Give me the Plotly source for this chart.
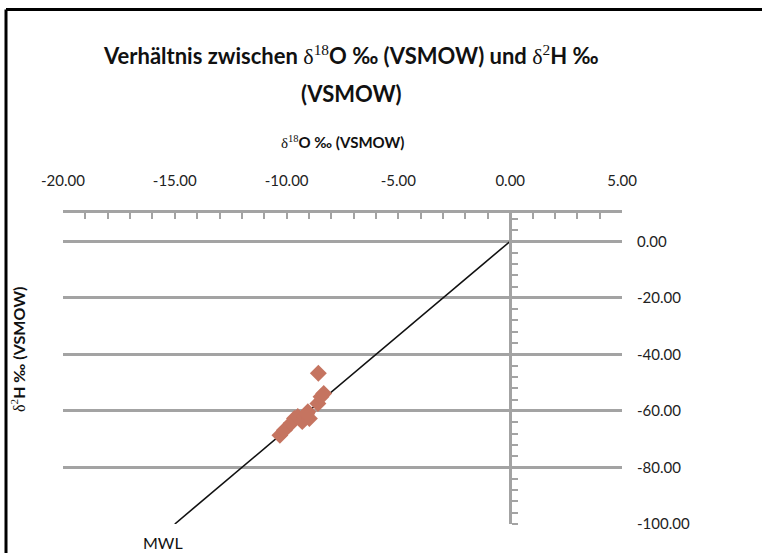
import plotly.graph_objects as go

# Isotope samples: delta-18O vs delta-2H (per mil, VSMOW)
d18o = [-10.3, -10.1, -9.8, -9.65, -9.5, -9.3, -9.2, -9.05, -8.98, -9.1, -8.6, -8.46, -8.34, -8.58]
d2h = [-68.6, -66.8, -64.4, -62.7, -62.0, -63.8, -62.1, -60.3, -62.7, -61.0, -57.4, -55.0, -53.8, -46.7]

# Meteoric water line end points
mwl_x = [-15.0, 0.0]
mwl_y = [-100.0, 0.0]

x_range = [-20, 5]
y_range = [-100, 10]
x_ticks = [-20, -15, -10, -5, 0, 5]
y_ticks = [0, -20, -40, -60, -80, -100]
x_labels = ["-20.00", "-15.00", "-10.00", "-5.00", "0.00", "5.00"]
y_labels = ["0.00", "-20.00", "-40.00", "-60.00", "-80.00", "-100.00"]

FONT = "Lato, Arial"
SERIF = "Liberation Serif"
GRID = "#a3a3a3"

# plot area in pixels
L, R, T, B = 63, 622, 213, 524
W_, H_ = 762, 553


def px(xp):
    return (xp - L) / (R - L)


def py(yp):
    return (B - yp) / (B - T)


def delta(iso):
    return f"<span style='font-family:{SERIF}'>δ<sup>{iso}</sup></span>"


fig = go.Figure()
fig.add_trace(go.Scatter(x=mwl_x, y=mwl_y, mode="lines",
                         line=dict(color="#111111", width=1.6),
                         showlegend=False, hoverinfo="skip"))
fig.add_trace(go.Scatter(x=d18o, y=d2h, mode="markers",
                         marker=dict(symbol="diamond", size=13, color="#C57460"),
                         showlegend=False))
# helper trace carrying the vertical axis drawn at x = 0
fig.add_trace(go.Scatter(x=[0], y=[0], yaxis="y2", mode="markers",
                         marker=dict(opacity=0), showlegend=False, hoverinfo="skip"))

fig.update_layout(
    width=W_, height=H_,
    margin=dict(l=L, r=W_ - R, t=T, b=H_ - B),
    paper_bgcolor="white", plot_bgcolor="white",
    font=dict(family=FONT, color="#222222", size=15),
    xaxis=dict(
        side="top", range=x_range, tickvals=x_ticks, ticktext=x_labels,
        showgrid=False, zeroline=False,
        showline=True, linecolor=GRID, linewidth=2.5,
        ticks="inside", ticklen=6, tickcolor=GRID, tickwidth=1.5,
        minor=dict(dtick=1, ticks="inside", ticklen=6, tickcolor=GRID, tickwidth=1.5),
        ticklabelstandoff=18,
        tickfont=dict(size=15),
    ),
    yaxis=dict(
        side="right", range=y_range, tickvals=y_ticks, ticktext=y_labels,
        showgrid=True, gridcolor=GRID, gridwidth=2.5,
        zeroline=False, showline=False, ticks="",
        ticklabelstandoff=14,
        tickfont=dict(size=15),
    ),
    yaxis2=dict(
        overlaying="y", anchor="free", position=(0 - x_range[0]) / (x_range[1] - x_range[0]),
        side="right", range=y_range, showgrid=False, zeroline=False,
        showline=True, linecolor=GRID, linewidth=2.5,
        showticklabels=False, tickmode="linear", tick0=0, dtick=20,
        ticks="outside", ticklen=6, tickcolor=GRID, tickwidth=1.5,
        minor=dict(dtick=4, ticks="outside", ticklen=6, tickcolor=GRID, tickwidth=1.5),
    ),
)

fig.add_annotation(
    text=f"<b>Verhältnis zwischen </b>{delta(18)}<b>O ‰ (VSMOW) und </b>{delta(2)}<b>H ‰</b>",
    xref="paper", yref="paper", x=px(351), y=py(55),
    xanchor="center", yanchor="middle", showarrow=False,
    font=dict(size=22, color="#111111"))
fig.add_annotation(
    text="<b>(VSMOW)</b>",
    xref="paper", yref="paper", x=px(351), y=py(93),
    xanchor="center", yanchor="middle", showarrow=False,
    font=dict(size=22, color="#111111"))
fig.add_annotation(
    text=f"{delta(18)}<b>O ‰ (VSMOW)</b>",
    xref="paper", yref="paper", x=px(342), y=py(142),
    xanchor="center", yanchor="middle", showarrow=False,
    font=dict(size=15, color="#111111"))
fig.add_annotation(
    text=f"{delta(2)}<b>H ‰ (VSMOW)</b>",
    xref="paper", yref="paper", x=px(18), y=py(350), textangle=-90,
    xanchor="center", yanchor="middle", showarrow=False,
    font=dict(size=16, color="#111111"))
fig.add_annotation(
    text="MWL", xref="paper", yref="paper", x=px(163), y=py(542),
    xanchor="center", yanchor="middle", showarrow=False,
    font=dict(size=16, color="#111111"))

# chart frame edges (top and left)
fig.add_shape(type="line", xref="paper", yref="paper",
              x0=px(6), x1=px(770), y0=py(9.5), y1=py(9.5),
              line=dict(color="black", width=3))
fig.add_shape(type="line", xref="paper", yref="paper",
              x0=px(6), x1=px(6), y0=py(9.5), y1=py(560),
              line=dict(color="black", width=3))

fig.write_html("out.html")
